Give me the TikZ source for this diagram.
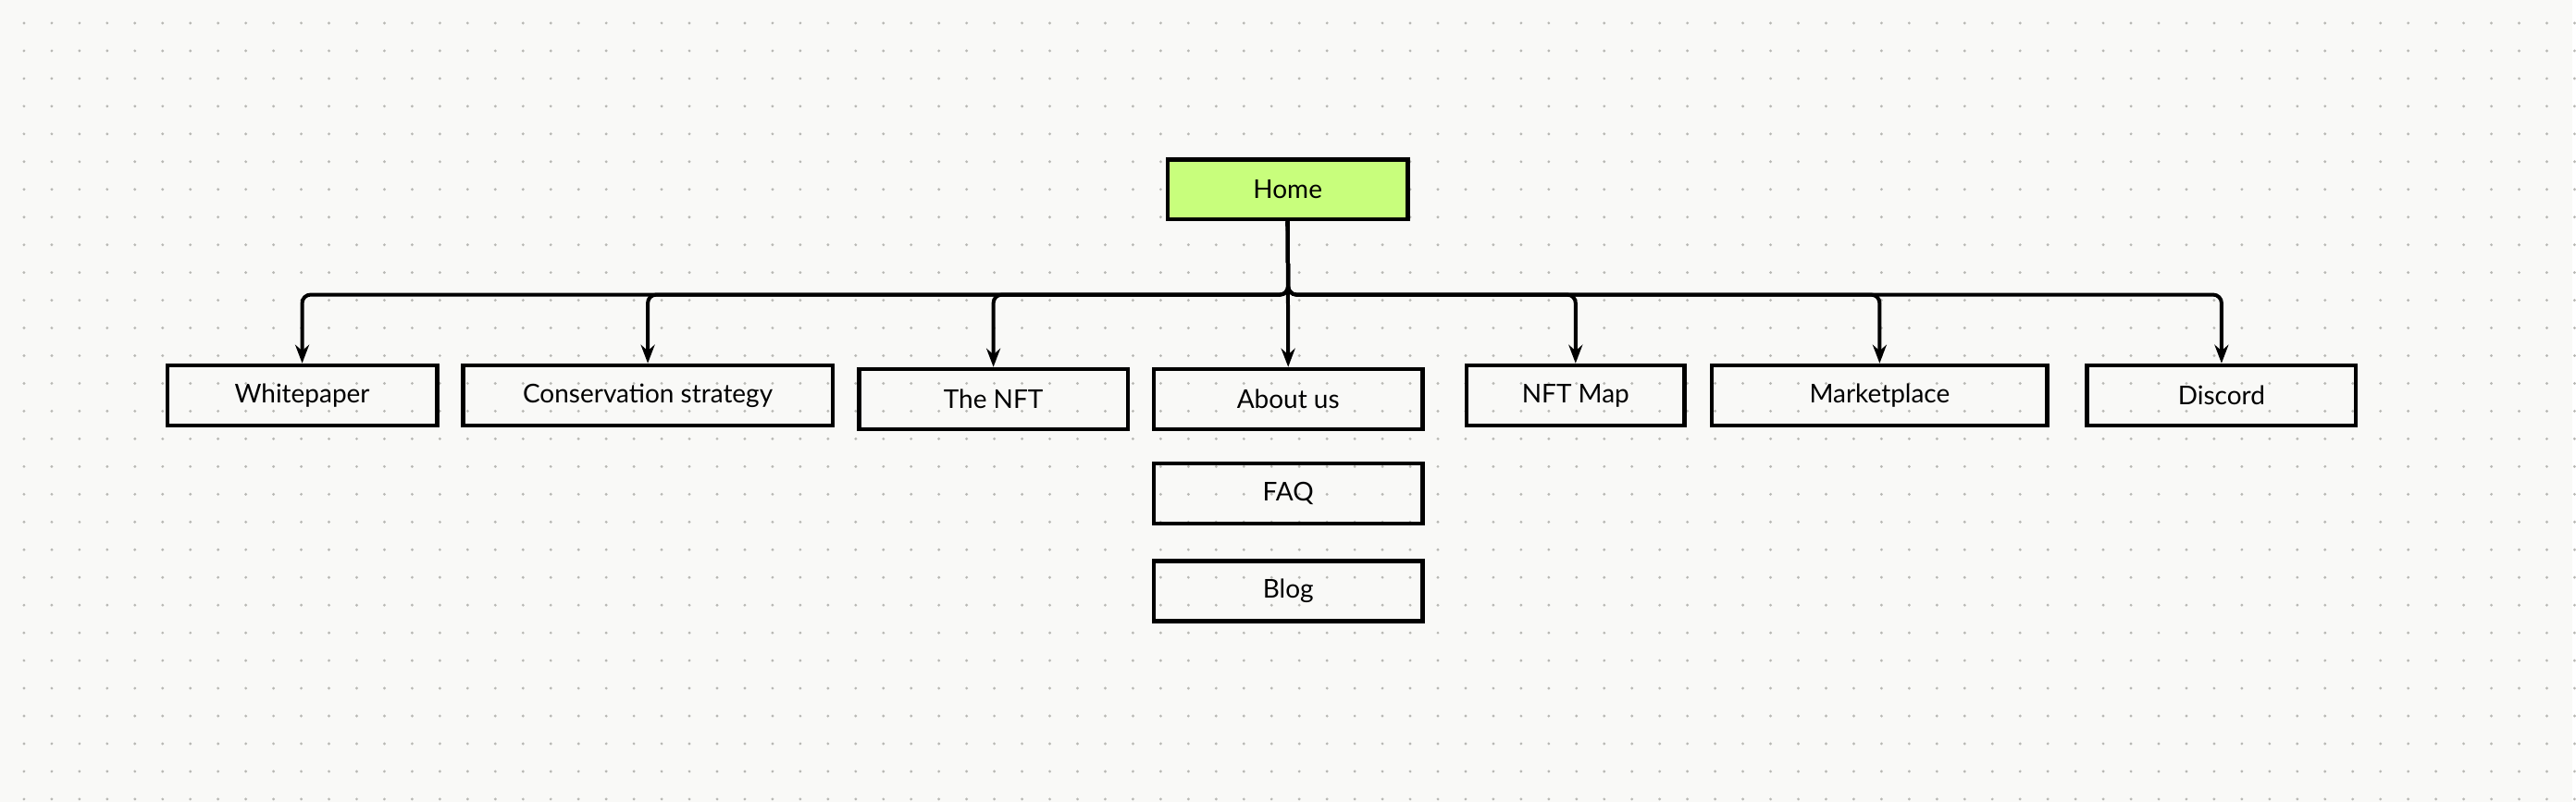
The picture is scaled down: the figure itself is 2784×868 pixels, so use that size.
\documentclass[tikz,border=0pt]{standalone}
\usepackage{fontspec}
\setmainfont{Lato}
\usetikzlibrary{arrows.meta}
\definecolor{bg}{HTML}{F9F9F7}
\definecolor{dot}{HTML}{B8B8B4}
\definecolor{lime}{HTML}{C8FE7C}
\begin{document}
\begin{tikzpicture}[x=1pt,y=-1pt,
  box/.style={draw=black,line width=4.5pt,minimum height=65pt,inner sep=0pt,font=\fontsize{28}{32}\selectfont},
  conn/.style={line width=4pt,rounded corners=9pt,-{Stealth[length=20pt,width=15pt]}}]
\fill[bg] (0,0) rectangle (2784,868);
\foreach \i in {0,...,92} \foreach \j in {0,...,28}
  \fill[dot] (26+30*\i,25+30*\j) circle (1.6);
\node[box,fill=lime,minimum width=260pt] (home) at (1393.5,205) {Home};
\node[box,minimum width=292pt] (wp) at (327,428) {Whitepaper};
\node[box,minimum width=400pt] (cs) at (701,428) {Conservation strategy};
\node[box,minimum width=291pt] (nft) at (1075,432) {The NFT};
\node[box,minimum width=291pt] (ab) at (1394,432) {About us};
\node[box,minimum width=236pt] (map) at (1705,428) {NFT Map};
\node[box,minimum width=363pt] (mk) at (2034,428) {Marketplace};
\node[box,minimum width=291pt] (dc) at (2404,428) {Discord};
\node[box,minimum width=291pt] (faq) at (1394,534) {FAQ};
\node[box,minimum width=291pt] (blog) at (1394,640) {Blog};
\coordinate (bus) at (1394,319);
\foreach \t in {wp,cs,nft,map,mk,dc}
  \draw[conn] (home.south) -- (bus) -| (\t.north);
\draw[conn] (home.south) -- (ab.north);
\end{tikzpicture}
\end{document}
